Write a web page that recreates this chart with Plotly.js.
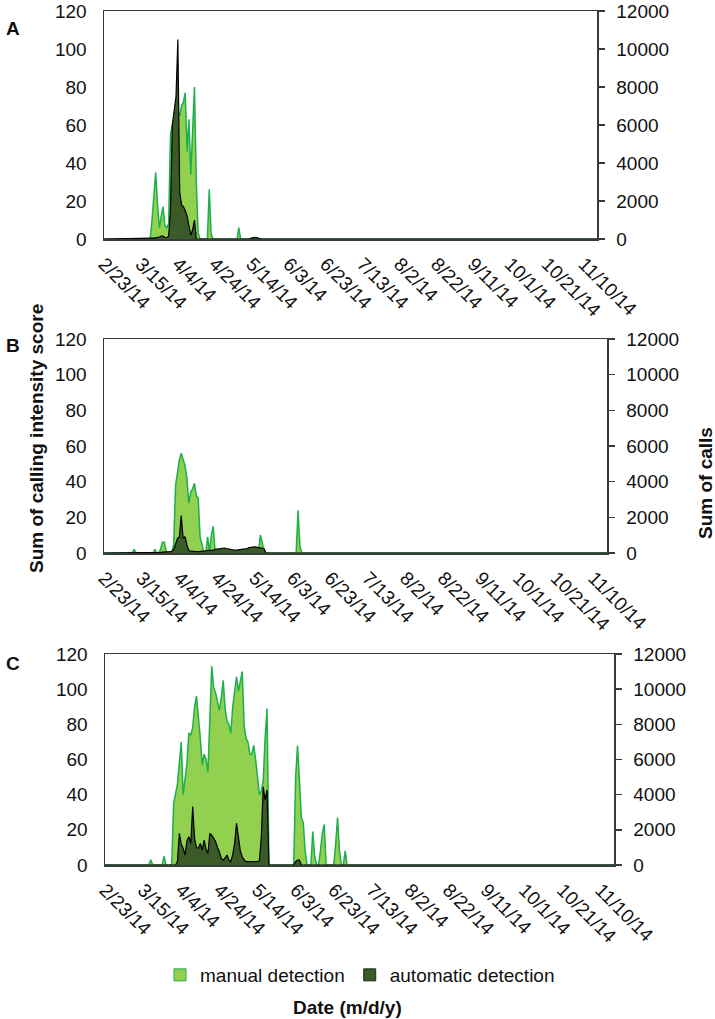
<!DOCTYPE html>
<html>
<head>
<meta charset="utf-8">
<script src="https://cdn.plot.ly/plotly-3.0.1.min.js"></script>
<style>html,body{margin:0;padding:0;background:#fff;}#chart{width:715px;height:1019px;}</style>
</head>
<body>
<div id="chart"></div>
<script>
// ---------- data ----------
const tickDates = ['2014-02-23','2014-03-15','2014-04-04','2014-04-24','2014-05-14','2014-06-03','2014-06-23','2014-07-13','2014-08-02','2014-08-22','2014-09-11','2014-10-01','2014-10-21','2014-11-10'];
const tickLabels = ['2/23/14','3/15/14','4/4/14','4/24/14','5/14/14','6/3/14','6/23/14','7/13/14','8/2/14','8/22/14','9/11/14','10/1/14','10/21/14','11/10/14'];
const axisStart = '2014-02-23';
const axisEnd = '2014-11-17';
const seriesNames = ['manual detection', 'automatic detection'];

// Panel A (daily values from the start date)
const manualA_start = '2014-03-19';
const manualA = [0,0,10,22,35,18,6,12,17,7,6,8,55,60,62,64,66,65,70,72,77,46,63,34,57,80,30,3,0,0,0,0,0,26,3,0,0,0,0,0,0,0,0,0,0,0,0,0,0,6,0];
const autoA_start = '2014-03-19';
const autoA = [80,50,50,50,60,80,100,150,150,80,80,150,1500,6000,6800,7500,10500,2500,1800,1700,1500,1200,700,200,500,1000,0,0,0,0,0,0,0,0,0,0,0,0,0,0,0,0,0,0,0,0,0,0,0,0,0,0,0,0,0,0,60,80,80,60,40,0];

// Panel B
const manualB_start = '2014-03-09';
const manualB = [0,0,2,0,0,0,0,0,0,0,0,0,0,2,0,0,2,6,6,1,0,0,0,5,38,45,52,56,53,49,42,28,34,36,39,32,31,9,5,0,0,9,1,10,15,0,0,0,0,0,0,0,0,0,0,0,0,0,0,0,0,0,0,0,0,0,0,0,0,10,6,0,0,0,0,0,0,0,0,0,0,0,0,0,0,0,0,0,0,24,4,0];
const autoB_start = '2014-03-24';
const autoB = [0,30,50,50,60,80,80,100,200,500,820,900,2100,820,920,450,150,100,80,80,80,80,80,100,100,120,150,150,150,150,200,220,250,280,280,280,250,220,180,160,160,160,170,180,190,200,220,250,300,330,350,350,330,300,280,260,240,0,0];

// Panel C
const manualC_start = '2014-03-17';
const manualC = [0,0,3,0,0,0,0,0,0,5,0,0,0,0,35,40,46,58,70,40,48,58,75,74,78,90,96,85,72,57,63,60,53,83,113,101,98,93,88,95,105,89,82,80,75,90,100,107,99,104,110,79,72,70,63,63,68,60,50,40,42,48,72,89,0,0,0,0,0,0,0,0,0,0,0,0,0,0,50,68,48,27,24,8,0,0,0,19,5,0,0,8,18,23,0,0,0,0,0,12,27,8,0,0,8,0,0,0];
const autoC_start = '2014-03-31';
const autoC = [0,0,200,1800,1200,950,570,1400,1610,1230,3320,1500,1000,950,1230,850,1420,900,660,1800,1700,1520,1330,1000,760,380,280,400,570,280,190,600,1230,2370,1420,800,470,280,190,190,190,190,190,190,190,250,1610,4450,3700,4270,0,0,0,0,0,0,0,0,0,0,0,0,0,0,190,280,280,0,0,0];

// ---------- helpers ----------
function addDays(start, i) {
  const d = new Date(start + 'T00:00:00Z');
  d.setUTCDate(d.getUTCDate() + i);
  return d.toISOString().slice(0, 10);
}
function series(start, vals) {
  const x = [axisStart], y = [0];
  vals.forEach((v, i) => { x.push(addDays(start, i)); y.push(v); });
  x.push(axisEnd); y.push(0);
  return {x, y};
}

const W = 715, H = 1019;
const FONT = 'Liberation Sans, Arial, sans-serif';
const AX = '#3a3a3a';
const lightFill = '#92D050', lightLine = '#1DAF4E';
const darkFill = '#3A5A27', darkLine = '#000000';

function px(v) { return v / W; }
function py(v) { return 1 - v / H; }

const panels = [
  {man: series(manualA_start, manualA), aut: series(autoA_start, autoA), xl: 104, xr: 597, yt: 11, yb: 239},
  {man: series(manualB_start, manualB), aut: series(autoB_start, autoB), xl: 104, xr: 607, yt: 339, yb: 553},
  {man: series(manualC_start, manualC), aut: series(autoC_start, autoC), xl: 105, xr: 614, yt: 654, yb: 865}
];

const data = [];
const layout = {
  width: W, height: H,
  margin: {l: 0, r: 0, t: 0, b: 0},
  paper_bgcolor: '#fff', plot_bgcolor: '#fff',
  font: {family: FONT, size: 19, color: '#111'},
  showlegend: true,
  legend: {orientation: 'h', x: px(160), xanchor: 'left', y: py(975), yanchor: 'middle',
           font: {family: FONT, size: 19, color: '#111'}, itemwidth: 30, bgcolor: 'rgba(0,0,0,0)'},
  annotations: []
};

panels.forEach((p, k) => {
  const xa = k === 0 ? 'x' : 'x' + (k + 1);
  const yl = k === 0 ? 'y' : 'y' + (2 * k + 1);
  const yr = 'y' + (2 * k + 2);
  const xkey = k === 0 ? 'xaxis' : 'xaxis' + (k + 1);
  const ylkey = k === 0 ? 'yaxis' : 'yaxis' + (2 * k + 1);
  const yrkey = 'yaxis' + (2 * k + 2);

  data.push({type: 'scatter', mode: 'lines', x: p.man.x, y: p.man.y, xaxis: xa, yaxis: yl,
    fill: 'tozeroy', fillcolor: lightFill, line: {color: lightLine, width: 1.5}, showlegend: false, hoverinfo: 'skip'});
  data.push({type: 'scatter', mode: 'lines', x: p.aut.x, y: p.aut.y, xaxis: xa, yaxis: yr,
    fill: 'tozeroy', fillcolor: darkFill, line: {color: darkLine, width: 1.2}, showlegend: false, hoverinfo: 'skip'});

  layout[xkey] = {
    domain: [px(p.xl), px(p.xr)], anchor: yl, type: 'date',
    range: [axisStart, axisEnd], tickmode: 'array', tickvals: tickDates, ticktext: tickLabels,
    tickangle: 45, ticks: '', showline: true, linecolor: AX, linewidth: 1.5, mirror: true,
    showgrid: false, zeroline: false, ticklabelstandoff: 5, ticklabeloverflow: 'allow',
    tickfont: {family: FONT, size: 19, color: '#111'}
  };
  layout[ylkey] = {
    domain: [py(p.yb), py(p.yt)], anchor: xa, range: [0, 120], tick0: 0, dtick: 20,
    ticks: '', showline: true, linecolor: AX, linewidth: 1.5, showgrid: false, zeroline: false,
    ticklabelstandoff: 12, ticklabeloverflow: 'allow',
    tickfont: {family: FONT, size: 19, color: '#111'}, tickformat: 'd'
  };
  layout[yrkey] = {
    overlaying: yl, side: 'right', anchor: xa, range: [0, 12000], tick0: 0, dtick: 2000,
    ticks: 'outside', ticklen: 6, tickwidth: 1.5, tickcolor: AX, showline: true, linecolor: AX, linewidth: 1.5,
    showgrid: false, zeroline: false, ticklabelstandoff: 8, ticklabeloverflow: 'allow',
    tickfont: {family: FONT, size: 19, color: '#111'}, tickformat: 'd'
  };
});

// legend entries
data.push({type: 'scatter', mode: 'markers', x: [null], y: [null], name: seriesNames[0],
  marker: {symbol: 'square', size: 12, color: lightFill, line: {color: lightLine, width: 1}}, hoverinfo: 'skip'});
data.push({type: 'scatter', mode: 'markers', x: [null], y: [null], name: seriesNames[1],
  marker: {symbol: 'square', size: 12, color: darkFill, line: {color: '#222', width: 1}}, hoverinfo: 'skip'});

const bold = {family: FONT, size: 19, color: '#111', weight: 'bold'};
const ann = (text, x, y, extra) => Object.assign({text, xref: 'paper', yref: 'paper', x: px(x), y: py(y),
  xanchor: 'center', yanchor: 'middle', showarrow: false, font: bold}, extra || {});
layout.annotations.push(ann('<b>A</b>', 13, 28));
layout.annotations.push(ann('<b>B</b>', 13, 345));
layout.annotations.push(ann('<b>C</b>', 13, 663));
layout.annotations.push(ann('<b>Sum of calling intensity score</b>', 37, 439, {textangle: -90}));
layout.annotations.push(ann('<b>Sum of calls</b>', 705, 483, {textangle: -90}));
layout.annotations.push(ann('<b>Date (m/d/y)</b>', 347, 1007));

Plotly.newPlot('chart', data, layout, {staticPlot: true, displayModeBar: false});
</script>
</body>
</html>
